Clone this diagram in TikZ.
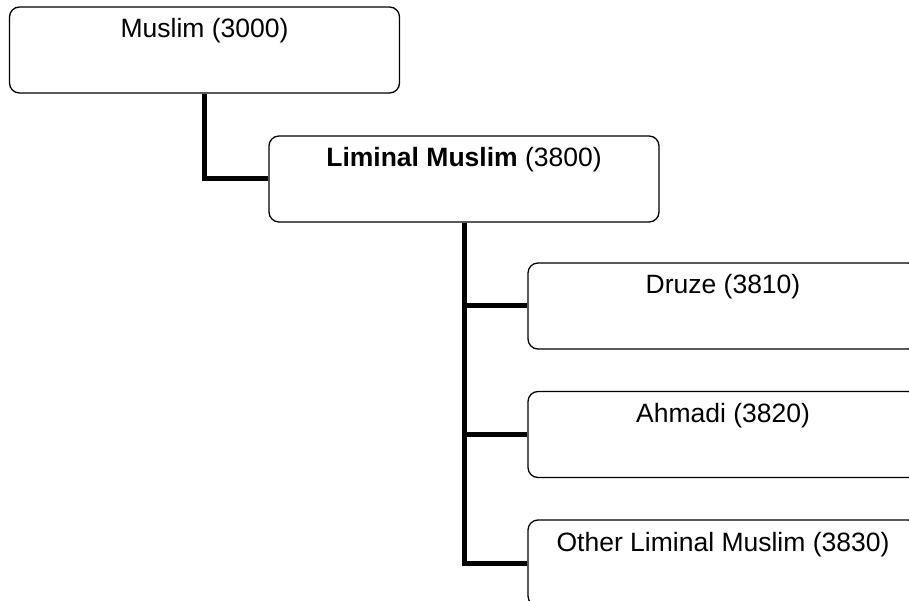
\documentclass[tikz,border=0pt]{standalone}
\usepackage{fontspec}
\setmainfont{Liberation Sans}
\usepackage{tikz}
\tikzset{%
  every group/.style={
    rectangle,
    draw,
    rounded corners=10,
    line width=1.3pt,
    minimum width=390pt,
    inner sep=0pt,
    text height=31pt,
    text depth=55pt,
    font=\fontsize{26.5pt}{30pt}\selectfont
  },
  link/.style={
    line width=5pt
  },
}
\begin{document}
\begin{tikzpicture}[x=1pt, y=1pt]

\useasboundingbox (0,0) rectangle (909,600);

% Top level
\node [every group/.try] (muslim) at (204.5,550) {Muslim (3000)};

% Second level
\node [every group/.try] (liminal) at (464,421) {\textbf{Liminal Muslim} (3800)};

% Third level
\foreach \l [count=\y] in {Druze (3810), Ahmadi (3820), Other Liminal Muslim (3830)}
  \node [every group/.try] (sub-\y) at (723,422.5-\y*128.5) {\l};

% Links
\draw [link] (muslim.south) |- (liminal.west);

\foreach \i in {1,...,3}
  \draw [link] (liminal.south) |- (sub-\i.west);

\end{tikzpicture}
\end{document}
